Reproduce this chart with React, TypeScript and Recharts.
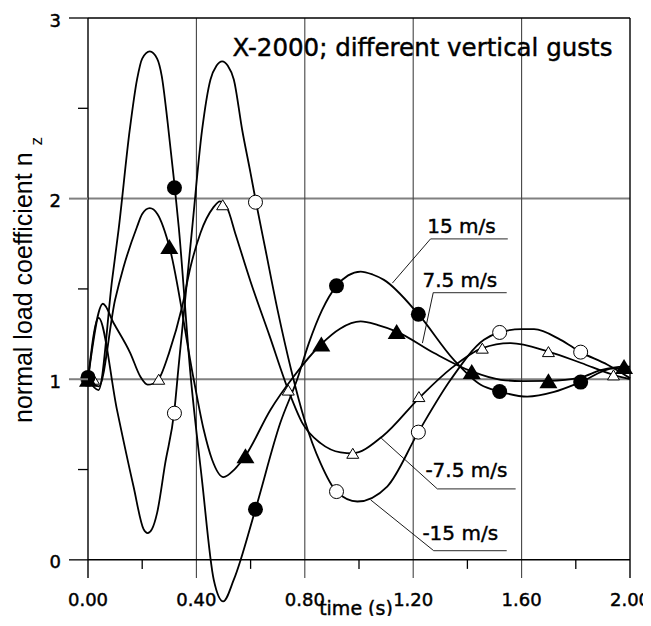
import {
  ComposedChart,
  Line,
  ReferenceDot,
  ReferenceLine,
  Scatter,
  XAxis,
  YAxis,
} from "recharts";

// curves: [time (s), n_z]
const gust15: [number, number][] = [
  [0, 1.0], [0.039, 0.94], [0.089, 1.55], [0.113, 1.83], [0.154, 2.38],
  [0.181, 2.66], [0.2, 2.775], [0.228, 2.815], [0.255, 2.775], [0.272, 2.68],
  [0.294, 2.42], [0.319, 2.08], [0.335, 1.84], [0.378, 1.03], [0.42, 0.45],
  [0.464, -0.11], [0.499, -0.23], [0.538, -0.11], [0.618, 0.28], [0.71, 0.76],
  [0.772, 1.0], [0.815, 1.2], [0.864, 1.384], [0.917, 1.517], [0.96, 1.575],
  [1.006, 1.596], [1.05, 1.58], [1.092, 1.55], [1.219, 1.36], [1.35, 1.107],
  [1.449, 0.969], [1.519, 0.932], [1.621, 0.904], [1.72, 0.93], [1.818, 0.984],
  [1.94, 1.06], [2.0, 1.06],
];

const gust7_5: [number, number][] = [
  [0, 1.0], [0.04, 0.96], [0.1, 1.44], [0.131, 1.62], [0.18, 1.84],
  [0.2, 1.915], [0.228, 1.947], [0.256, 1.915], [0.3, 1.735], [0.39, 1.0],
  [0.427, 0.72], [0.458, 0.554], [0.5, 0.458], [0.54, 0.5], [0.581, 0.576],
  [0.673, 0.83], [0.759, 1.015], [0.861, 1.195], [0.93, 1.28], [1.006, 1.32],
  [1.07, 1.3], [1.139, 1.264], [1.277, 1.145], [1.416, 1.043], [1.523, 0.997],
  [1.6, 0.99], [1.699, 0.991], [1.818, 1.01], [1.892, 1.05], [1.978, 1.07],
  [2.0, 1.07],
];

const gustNeg7_5: [number, number][] = [
  [0, 1.0], [0.055, 1.418], [0.095, 1.31], [0.156, 1.145], [0.193, 1.015],
  [0.22, 0.97], [0.24, 0.975], [0.261, 1.0], [0.3, 1.15], [0.347, 1.4],
  [0.378, 1.62], [0.415, 1.81], [0.462, 1.95], [0.487, 1.985], [0.513, 1.95],
  [0.545, 1.8], [0.6, 1.54], [0.67, 1.24], [0.739, 0.94], [0.79, 0.76],
  [0.858, 0.646], [0.932, 0.595], [0.977, 0.59], [1.086, 0.683], [1.227, 0.904],
  [1.34, 1.06], [1.455, 1.172], [1.56, 1.2], [1.699, 1.153], [1.82, 1.09],
  [1.939, 1.024], [2.0, 1.0],
];

const gustNeg15: [number, number][] = [
  [0, 1.0], [0.039, 1.34], [0.107, 0.83], [0.168, 0.406], [0.205, 0.17],
  [0.22, 0.148], [0.236, 0.17], [0.255, 0.26], [0.285, 0.535], [0.319, 0.83],
  [0.333, 1.05], [0.384, 1.83], [0.421, 2.38], [0.452, 2.66], [0.474, 2.735],
  [0.495, 2.76], [0.516, 2.735], [0.538, 2.66], [0.569, 2.38], [0.6, 2.14],
  [0.62, 1.98], [0.655, 1.717], [0.7, 1.38], [0.75, 1.05], [0.8, 0.77],
  [0.858, 0.535], [0.917, 0.378], [0.994, 0.323], [1.104, 0.406], [1.219, 0.707],
  [1.338, 0.997], [1.461, 1.218], [1.519, 1.259], [1.6, 1.277], [1.646, 1.277],
  [1.744, 1.218], [1.818, 1.15], [1.917, 1.08], [2.0, 1.006],
];

// symbols sitting on the curves
const marks15: [number, number][] = [
  [0, 1.01], [0.319, 2.06], [0.618, 0.28], [0.917, 1.517], [1.219, 1.36],
  [1.519, 0.932], [1.818, 0.984],
];
const marks7_5: [number, number][] = [
  [0, 1.0], [0.3, 1.735], [0.581, 0.576], [0.861, 1.195], [1.139, 1.264],
  [1.416, 1.043], [1.699, 0.991], [1.978, 1.07],
];
const marksNeg7_5: [number, number][] = [
  [0.02, 1.0], [0.261, 1.0], [0.497, 1.966], [0.739, 0.94], [0.977, 0.59],
  [1.221, 0.904], [1.455, 1.172], [1.699, 1.153], [1.939, 1.024],
];
const marksNeg15: [number, number][] = [
  [0, 1.0], [0.319, 0.812], [0.618, 1.98], [0.917, 0.378], [1.219, 0.707],
  [1.519, 1.259], [1.818, 1.15],
];

const seriesNames = ["15 m/s", "7.5 m/s", "-7.5 m/s", "-15 m/s"];

const xTicks = [0, 0.4, 0.8, 1.2, 1.6, 2.0];
const xMinorTicks = [0.2, 0.6, 1.0, 1.4, 1.8];
const yTicks = [0, 0.5, 1, 1.5, 2, 2.5, 3];
const yGridLines = [1, 2];

const title = "X-2000; different vertical gusts";
const xTitle = "time (s)";
const yTitle = "normal load coefficient n";
const ySubscript = "z";

// where the gust labels sit (data units): text corner, underline, leader end
const labelLayout = [
  { tx: 1.252, ty: 1.811, u1: 1.264, u2: 1.549, uy: 1.777, lx: 1.123, ly: 1.532 },
  { tx: 1.234, ty: 1.512, u1: 1.274, u2: 1.545, uy: 1.48, lx: 1.234, ly: 1.2 },
  { tx: 1.245, ty: 0.46, u1: 1.289, u2: 1.578, uy: 0.393, lx: 1.082, ly: 0.674 },
  { tx: 1.234, ty: 0.111, u1: 1.275, u2: 1.545, uy: 0.0515, lx: 1.043, ly: 0.332 },
];
const titlePos = { t: 0.533, v: 2.79 };

const FONT = "'DejaVu Sans', sans-serif";
// the scanned labels are a touch heavier than plain DejaVu
const heavy = { stroke: "#000", strokeWidth: 0.45 };

const toPoints = (rows: [number, number][]) => rows.map(([t, v]) => ({ t, v }));

const FilledCircle = (p: any) => <circle cx={p.cx} cy={p.cy} r={7.5} fill="#000" />;
const OpenCircle = (p: any) => (
  <circle cx={p.cx} cy={p.cy} r={7} fill="#fff" stroke="#000" strokeWidth={1} />
);
const FilledTriangle = (p: any) => (
  <path
    d={`M${p.cx},${p.cy - 7.5}L${p.cx + 9},${p.cy + 7.5}L${p.cx - 9},${p.cy + 7.5}Z`}
    fill="#000"
  />
);
const OpenTriangle = (p: any) => (
  <path
    d={`M${p.cx},${p.cy - 5}L${p.cx + 6},${p.cy + 5}L${p.cx - 6},${p.cy + 5}Z`}
    fill="#fff"
    stroke="#000"
    strokeWidth={1}
  />
);

const XTick = ({ x, y, payload }: any) => (
  <text x={x} y={y + 1} textAnchor="middle" fontFamily={FONT} fontSize={18} fill="#000" {...heavy}>
    {Number(payload.value).toFixed(2)}
  </text>
);

const YTick = ({ x, y, payload }: any) => {
  const value = Number(payload.value);
  const major = Number.isInteger(value);
  const grid = yGridLines.includes(value);
  return (
    <g>
      <line
        x1={x - (major ? 19 : 10)}
        x2={x}
        y1={y}
        y2={y}
        stroke={grid ? "#808080" : "#000"}
        strokeWidth={grid ? 2 : 1.3}
      />
      {major && (
        <text
          x={x - 27}
          y={y + 8.5}
          textAnchor="end"
          fontFamily={FONT}
          fontSize={18}
          fill="#000"
          {...heavy}
        >
          {value}
        </text>
      )}
    </g>
  );
};

const renderYTitle = (props: any) => {
  const vb = props.viewBox;
  const cx = vb.x + 24;
  const cy = vb.y + 262;
  return (
    <text
      x={cx}
      y={cy}
      transform={`rotate(-90, ${cx}, ${cy})`}
      textAnchor="middle"
      fontFamily="'Liberation Sans', Arial, sans-serif"
      fontSize={25}
      fill="#000"
    >
      {yTitle}{" "}
      <tspan dy={10} fontSize={17}>
        {ySubscript}
      </tspan>
    </text>
  );
};

const renderXTitle = (props: any) => {
  const vb = props.viewBox;
  return (
    <text
      x={vb.x + 268}
      y={vb.y + 10}
      textAnchor="middle"
      fontFamily={FONT}
      fontSize={19}
      fill="#000"
      {...heavy}
    >
      {xTitle}
    </text>
  );
};

const App = () => {
  const curves = [gust15, gust7_5, gustNeg7_5, gustNeg15];

  return (
    <div style={{ width: 642, height: 612, marginBottom: -4 }}>
      <ComposedChart width={642} height={612} margin={{ top: 10, right: 20, bottom: 0, left: 0 }}>
        <XAxis
          type="number"
          dataKey="t"
          domain={[0, 2]}
          ticks={xTicks}
          interval={0}
          tickSize={0}
          tickMargin={0}
          tickLine={false}
          axisLine={false}
          height={15}
          tick={XTick}
          label={renderXTitle}
        />
        <YAxis
          type="number"
          dataKey="v"
          domain={[-0.25, 3]}
          ticks={yTicks}
          interval={0}
          width={80}
          tickSize={0}
          tickMargin={0}
          tickLine={false}
          axisLine={false}
          tick={YTick}
          label={renderYTitle}
        />

        {yGridLines.map((v) => (
          <ReferenceLine
            key={`h${v}`}
            segment={[{ x: 0, y: v }, { x: 2, y: v }]}
            stroke="#808080"
            strokeWidth={2}
          />
        ))}
        {xTicks.map((t) => (
          <ReferenceLine
            key={`v${t}`}
            segment={[{ x: t, y: -0.1 }, { x: t, y: 3 }]}
            stroke={t === 0 || t === 2 ? "#000" : "#444"}
            strokeWidth={t === 0 || t === 2 ? 1.4 : 1.1}
          />
        ))}
        {xMinorTicks.map((t) => (
          <ReferenceLine
            key={`m${t}`}
            segment={[{ x: t, y: 0 }, { x: t, y: -0.05 }]}
            stroke="#000"
            strokeWidth={1.3}
          />
        ))}
        <ReferenceLine segment={[{ x: 0, y: 0 }, { x: 2, y: 0 }]} stroke="#000" strokeWidth={1.5} />
        <ReferenceLine segment={[{ x: 0, y: 3 }, { x: 2, y: 3 }]} stroke="#000" strokeWidth={1.4} />

        {labelLayout.map((l, i) => (
          <ReferenceLine
            key={`u${i}`}
            segment={[{ x: l.u1, y: l.uy }, { x: l.u2, y: l.uy }]}
            stroke="#555"
            strokeWidth={1.2}
          />
        ))}
        {labelLayout.map((l, i) => (
          <ReferenceLine
            key={`l${i}`}
            segment={[{ x: l.u1, y: l.uy }, { x: l.lx, y: l.ly }]}
            stroke="#000"
            strokeWidth={0.9}
          />
        ))}

        {curves.map((c, i) => (
          <Line
            key={seriesNames[i]}
            name={seriesNames[i]}
            data={toPoints(c)}
            dataKey="v"
            type="monotone"
            stroke="#000"
            strokeWidth={1.8}
            dot={false}
            activeDot={false}
            isAnimationActive={false}
          />
        ))}

        <Scatter data={toPoints(marksNeg15)} shape={OpenCircle} isAnimationActive={false} />
        <Scatter data={toPoints(marksNeg7_5)} shape={OpenTriangle} isAnimationActive={false} />
        <Scatter data={toPoints(marks7_5)} shape={FilledTriangle} isAnimationActive={false} />
        <Scatter data={toPoints(marks15)} shape={FilledCircle} isAnimationActive={false} />

        {labelLayout.map((l, i) => (
          <ReferenceDot
            key={`t${i}`}
            x={l.tx}
            y={l.ty}
            r={0}
            shape={(p: any) => (
              <text x={p.cx} y={p.cy} fontFamily={FONT} fontSize={20} fill="#000" {...heavy}>
                {seriesNames[i]}
              </text>
            )}
          />
        ))}
        <ReferenceDot
          x={titlePos.t}
          y={titlePos.v}
          r={0}
          shape={(p: any) => (
            <text x={p.cx} y={p.cy} fontFamily={FONT} fontSize={24.5} fill="#000" {...heavy}>
              {title}
            </text>
          )}
        />
      </ComposedChart>
    </div>
  );
};

export default App;
